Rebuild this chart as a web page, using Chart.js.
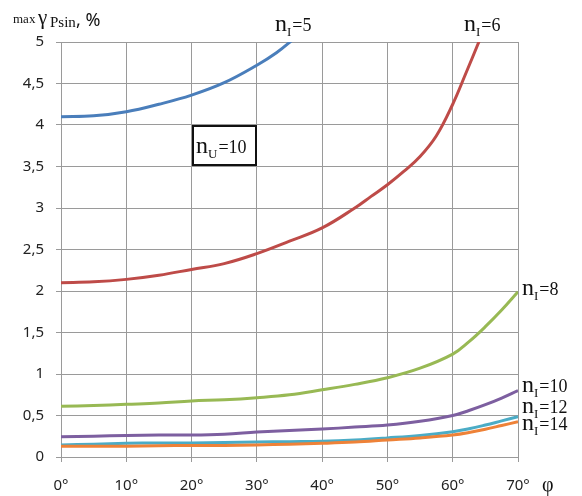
<!DOCTYPE html>
<html>
<head>
<meta charset="utf-8">
<script src="https://cdn.jsdelivr.net/npm/chart.js@4"></script>
<style>
  body { margin: 0; background: #fff; }
</style>
</head>
<body>
<canvas id="chart" width="582" height="496"></canvas>
<script>
// angle phi, degrees, and max gamma_Psin, %, for nU = 10
const phi5 = [0, 5, 10, 15, 20, 25, 30, 33, 36];
const nI5 = [4.10, 4.11, 4.16, 4.25, 4.36, 4.51, 4.72, 4.87, 5.06];

const phi6 = [0, 5, 10, 15, 20, 25, 30, 35, 40, 45, 47.5, 50, 52.5, 55, 57.5, 60, 62, 64, 65];
const nI6 = [2.10, 2.11, 2.14, 2.19, 2.26, 2.33, 2.45, 2.60, 2.76, 3.00, 3.14, 3.28, 3.44, 3.62, 3.87, 4.25, 4.62, 5.00, 5.20];

const phi = [0, 5, 10, 15, 20, 25, 30, 35, 40, 45, 50, 55, 60, 62.5, 65, 67.5, 70];
const nI8 = [0.61, 0.62, 0.635, 0.65, 0.675, 0.69, 0.715, 0.75, 0.81, 0.875, 0.955, 1.07, 1.24, 1.39, 1.57, 1.77, 1.99];
const nI10 = [0.245, 0.25, 0.26, 0.265, 0.265, 0.275, 0.30, 0.32, 0.337, 0.36, 0.385, 0.43, 0.50, 0.56, 0.63, 0.71, 0.80];
const nI12 = [0.145, 0.155, 0.165, 0.17, 0.17, 0.175, 0.18, 0.185, 0.19, 0.205, 0.23, 0.26, 0.305, 0.34, 0.385, 0.435, 0.485];
const nI14 = [0.13, 0.13, 0.13, 0.135, 0.14, 0.14, 0.145, 0.155, 0.165, 0.18, 0.205, 0.23, 0.265, 0.295, 0.335, 0.38, 0.425];

const curveNames = ['5', '6', '8', '10', '12', '14'];
const colorCodes = ['#4A7EBB', '#BE4B48', '#98B954', '#7D5FA0', '#4BACC6', '#EE8238'];

const pts = (xs, ys) => xs.map((x, i) => ({ x: x, y: ys[i] }));
const series = [pts(phi5, nI5), pts(phi6, nI6), pts(phi, nI8), pts(phi, nI10), pts(phi, nI12), pts(phi, nI14)];

const gridColor = '#9a9a9a';
const tickFont = { family: 'Noto Sans', size: 15 };

// draws "n" + subscript + "=value" in serif, like the labels on the curves
function nLabel(ctx, x, base, sub, rest) {
    ctx.fillStyle = '#111';
    ctx.textAlign = 'left';
    ctx.textBaseline = 'alphabetic';
    ctx.font = '24px "Liberation Serif"';
    ctx.fillText('n', x, base);
    let w = ctx.measureText('n').width;
    ctx.font = '13px "Liberation Serif"';
    ctx.fillText(sub, x + w, base + 5);
    w += ctx.measureText(sub).width + 1;
    ctx.font = '18px "Liberation Serif"';
    ctx.fillText(rest, x + w, base);
}

const textPlugin = {
    id: 'texts',
    afterDraw(chart) {
        const ctx = chart.ctx;
        ctx.save();
        // axis title
        ctx.fillStyle = '#111';
        ctx.textBaseline = 'alphabetic';
        ctx.font = '13px "Liberation Serif"';
        ctx.fillText('max', 13, 23);
        ctx.font = '21px "Liberation Serif"';
        ctx.fillText('γ', 38, 24);
        ctx.font = '15px "Liberation Serif"';
        ctx.fillText('Psin', 50, 27);
        ctx.font = '18px "Noto Sans"';
        ctx.fillText(', %', 76, 26);

        ctx.font = '20px "Liberation Serif"';
        ctx.fillText('φ', 542, 491);

        nLabel(ctx, 275, 31, 'I', '=5');
        nLabel(ctx, 464, 31, 'I', '=6');
        nLabel(ctx, 522, 295, 'I', '=8');
        nLabel(ctx, 522, 392, 'I', '=10');
        nLabel(ctx, 522, 413, 'I', '=12');
        nLabel(ctx, 522, 430, 'I', '=14');

        // nU box
        ctx.fillStyle = '#fff';
        ctx.fillRect(193, 126, 63, 39);
        ctx.strokeStyle = '#111';
        ctx.lineWidth = 2;
        ctx.strokeRect(193, 126, 63, 39);
        nLabel(ctx, 196, 153, 'U', '=10');
        ctx.restore();
    }
};

new Chart(document.getElementById('chart'), {
    type: 'line',
    plugins: [textPlugin],
    data: {
        datasets: series.map((s, i) => ({
            label: 'nI=' + curveNames[i],
            data: s,
            borderColor: colorCodes[i],
            borderWidth: 3,
            pointRadius: 0,
            tension: 0.4,
            fill: false,
            order: 6 - i
        }))
    },
    options: {
        responsive: false,
        animation: false,
        layout: { padding: { top: 42, right: 64, left: 0, bottom: 0 } },
        plugins: {
            legend: { display: false },
            tooltip: { enabled: false }
        },
        scales: {
            x: {
                type: 'linear',
                min: 0,
                max: 70,
                afterFit: (s) => { s.height = 39; },
                grid: { color: gridColor, tickLength: 5 },
                border: { color: gridColor },
                ticks: {
                    stepSize: 10,
                    color: '#222',
                    font: tickFont,
                    padding: 15,
                    maxRotation: 0,
                    callback: (v) => v + '°'
                }
            },
            y: {
                min: 0,
                max: 5,
                afterFit: (s) => { s.width = 61; },
                grid: { color: gridColor, tickLength: 5 },
                border: { color: gridColor },
                ticks: {
                    stepSize: 0.5,
                    color: '#222',
                    font: tickFont,
                    padding: 12,
                    callback: (v) => String(v).replace('.', ',')
                }
            }
        }
    }
});
</script>
</body>
</html>
